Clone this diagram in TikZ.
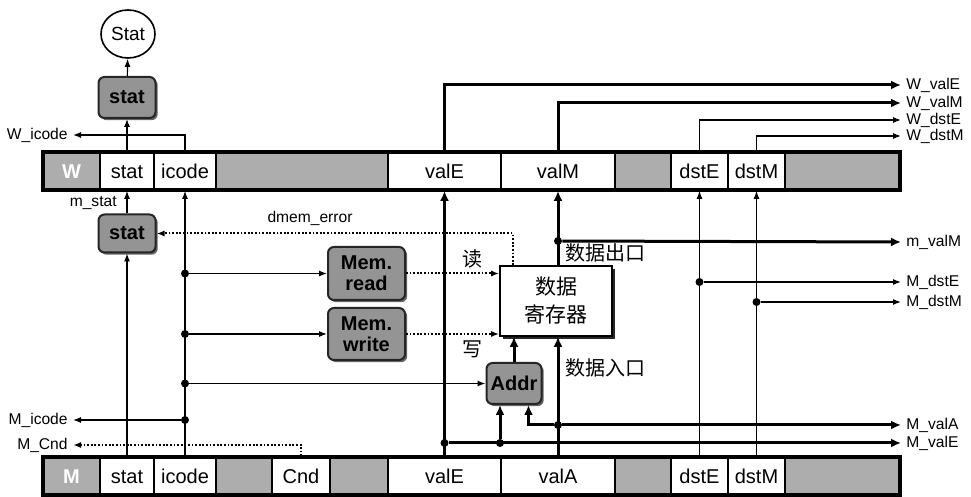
\documentclass[tikz,border=0pt]{standalone}
\usepackage{fontspec}
\setmainfont{Liberation Sans}
\newfontfamily\cjk{Noto Sans CJK SC}
\usetikzlibrary{arrows.meta,shadows,shapes.geometric}
\tikzset{
  regcell/.style={draw=black, line width=0.9pt, fill=white, inner sep=0pt, minimum height=19pt,
                  text height=7.2pt, text depth=0pt, font=\fontsize{10}{11}\selectfont},
  greycell/.style={regcell, fill=black!32},
  regframe/.style={draw=black, line width=1.6pt},
  logicbox/.style={draw=black!85, line width=1pt, fill=black!42, rounded corners=3pt,
                   inner sep=0pt, align=center, font=\fontsize{10}{10.5}\selectfont\bfseries,
                   drop shadow={shadow xshift=1.1pt, shadow yshift=-1.1pt, fill=black, opacity=0.6}},
  membox/.style={draw=black, line width=0.8pt, fill=white, inner sep=0pt, align=center,
                 font=\cjk\fontsize{10.5}{14}\selectfont,
                 drop shadow={shadow xshift=1.3pt, shadow yshift=-1.3pt, fill=black, opacity=0.85}},
  wire/.style={line width=0.6pt, -{Latex[length=4pt,width=3pt]}},
  bus/.style={line width=1.5pt, -{Latex[length=5pt,width=4.5pt]}},
  ctrl/.style={line width=1pt, dash pattern=on 0.9pt off 0.9pt, -{Latex[length=4pt,width=3pt]}},
  sig/.style={font=\fontsize{7.8}{8}\selectfont, inner sep=2.5pt},
  note/.style={font=\cjk\fontsize{10}{11}\selectfont, inner sep=0pt},
  dot/.style={circle, fill=black, inner sep=0pt, minimum size=4pt},
}
\begin{document}
\begin{tikzpicture}[x=0.5pt, y=-0.5pt]
\useasboundingbox (0,0) rectangle (971,497);

% pipeline register W
\node[greycell, minimum width=28.5pt, text=white, font=\fontsize{10}{11}\selectfont\bfseries] (Wlbl) at (71.5,171) {W};
\foreach \nm/\xa/\xb in {stat/100/154, icode/154/216, valE/388/501, valM/501/615, dstE/671/728, dstM/728/785}
  \node[regcell, minimum width={(\xb-\xa)*0.5pt}] (W\nm) at ({(\xa+\xb)/2},171) {\nm};
\foreach \i/\xa/\xb in {1/216/388, 2/615/671, 3/785/900}
  \node[greycell, minimum width={(\xb-\xa)*0.5pt}] (Wg\i) at ({(\xa+\xb)/2},171) {};
\draw[regframe] (43,152) rectangle (900,190);

% pipeline register M
\node[greycell, minimum width=28.5pt, text=white, font=\fontsize{10}{11}\selectfont\bfseries] (Mlbl) at (71.5,476) {M};
\foreach \nm/\xa/\xb in {stat/100/154, icode/154/216, Cnd/272/330, valE/388/501, valA/501/615, dstE/671/728, dstM/728/785}
  \node[regcell, minimum width={(\xb-\xa)*0.5pt}] (M\nm) at ({(\xa+\xb)/2},476) {\nm};
\foreach \i/\xa/\xb in {1/216/272, 2/330/388, 3/615/671, 4/785/900}
  \node[greycell, minimum width={(\xb-\xa)*0.5pt}] (Mg\i) at ({(\xa+\xb)/2},476) {};
\draw[regframe] (43,457) rectangle (900,495);

% logic blocks
\node[draw, ellipse, line width=0.8pt, minimum width=27pt, minimum height=24pt, inner sep=0pt,
      font=\fontsize{9.5}{10}\selectfont] (Stat) at (128,34) {Stat};
\node[logicbox, minimum width=28.5pt, minimum height=20.5pt] (statW) at (127,97.5) {stat};
\node[logicbox, minimum width=28.5pt, minimum height=19pt] (statM) at (127,233.5) {stat};
\node[logicbox, minimum width=38.5pt, minimum height=26.5pt] (memrd) at (366.5,273.5) {Mem.\\read};
\node[logicbox, minimum width=38.5pt, minimum height=26pt] (memwr) at (366.5,334) {Mem.\\write};
\node[logicbox, minimum width=27.5pt, minimum height=20.5pt] (Addr) at (514,383.5) {Addr};
\node[membox, minimum width=56pt, minimum height=35pt] (dmem) at (556,301) {数据\\寄存器};

% output labels
\node[sig, anchor=west] (lWvalE) at (901,85) {W\_valE};
\node[sig, anchor=west] (lWvalM) at (901,103) {W\_valM};
\node[sig, anchor=west] (lWdstE) at (901,120) {W\_dstE};
\node[sig, anchor=west] (lWdstM) at (901,136) {W\_dstM};
\node[sig, anchor=west] (lmvalM) at (901,242) {m\_valM};
\node[sig, anchor=west] (lMdstE) at (901,282) {M\_dstE};
\node[sig, anchor=west] (lMdstM) at (901,302) {M\_dstM};
\node[sig, anchor=west] (lMvalA) at (901,425) {M\_valA};
\node[sig, anchor=west] (lMvalE) at (901,443) {M\_valE};
\node[sig, anchor=east] (lWicode) at (73,135) {W\_icode};
\node[sig, anchor=east] (lMicode) at (73,420) {M\_icode};
\node[sig, anchor=east] (lMCnd) at (73,445) {M\_Cnd};
\node[sig, anchor=east] (lmstat) at (122,203) {m\_stat};
\node[sig] (lerr) at (310,218) {dmem\_error};
\node[note] (lrd) at (472,259) {读};
\node[note] (lwr) at (472,349) {写};
\node[note, anchor=west] (lout) at (565,253) {数据出口};
\node[note, anchor=west] (lin) at (565,368) {数据入口};

% junctions
\node[dot] (ic1) at (185,273.5) {};
\node[dot] (ic2) at (185,334) {};
\node[dot] (ic3) at (185,383.5) {};
\node[dot] (ic4) at (185,420) {};
\node[dot] (vE1) at (444.5,443) {};
\node[dot] (vE2) at (500,443) {};
\node[dot] (vA1) at (558,425) {};
\node[dot] (vM1) at (558,241) {};
\node[dot] (dE1) at (699.5,282) {};
\node[dot] (dM1) at (756.5,302) {};

% stat / icode / Cnd
\draw[wire] (statW) -- (Stat);
\draw[wire] (Wstat) -- (statW);
\draw[wire] (statM) -- (Wstat);
\draw[wire] (Mstat) -- (statM);
\draw[wire] (Wicode.north) |- (lWicode.east);
\draw[wire] (Micode) -- (Wicode);
\draw[wire] (ic1) -- (memrd);
\draw[wire] (ic2) -- (memwr);
\draw[wire] (ic3) -- (Addr);
\draw[wire] (ic4) -- (lMicode.east);
\draw[ctrl] (MCnd.north) |- (lMCnd.east);

% memory control
\draw[ctrl] (memrd) -- (memrd -| dmem.west);
\draw[ctrl] (memwr) -- (memwr -| dmem.west);
\draw[ctrl] ([xshift=-21.5pt]dmem.north) |- (statM.east);

% data paths
\draw[bus] (MvalE) -- (WvalE);
\draw[bus] (WvalE.north) |- (lWvalE.west);
\draw[bus] (WvalM.north) |- (lWvalM.west);
\draw[bus] (WvalM.south |- dmem.north) -- (WvalM.south);
\draw[bus] (vM1) -- (lmvalM.west);
\draw[bus] (MvalA.north) -- (MvalA.north |- dmem.south);
\draw[bus] (vA1) -- (lMvalA.west);
\draw[bus] (vA1) -| ([xshift=-7pt]Addr.south east);
\draw[bus] (vE1) -- (lMvalE.west);
\draw[bus] (vE2) -- (vE2 |- Addr.south);
\draw[bus] (Addr) -- (Addr |- dmem.south);

% dst
\draw[wire] (MdstE) -- (WdstE);
\draw[wire] (MdstM) -- (WdstM);
\draw[wire] (WdstE.north) |- (lWdstE.west);
\draw[wire] (WdstM.north) |- (lWdstM.west);
\draw[wire] (dE1) -- (lMdstE.west);
\draw[wire] (dM1) -- (lMdstM.west);
\end{tikzpicture}
\end{document}
